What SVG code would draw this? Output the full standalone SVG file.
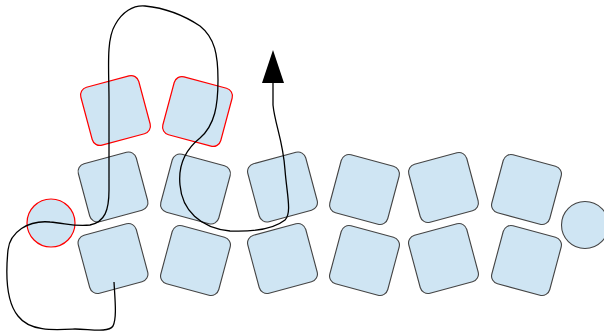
<svg xmlns="http://www.w3.org/2000/svg" width="604" height="333" viewBox="0 0 604 333">
<style>
.n{fill:#cfe5f3;stroke:#444;stroke-width:1.1}
.r{fill:#cfe5f3;stroke:#f00;stroke-width:1.2}
.c{fill:none;stroke:#000;stroke-width:1.3}
</style>
<defs>
<rect id="sq" x="-30" y="-30" width="60" height="60" rx="8"/>
<marker id="ah" viewBox="0 0 33 22" refX="0" refY="11" markerWidth="33" markerHeight="22" markerUnits="userSpaceOnUse" orient="auto">
<path d="M0,0 L33,11 L0,22 z" fill="#000"/>
</marker>
</defs>
<rect width="604" height="333" fill="#fff"/>
<g id="nodes">
<g id="red1"><use href="#sq" class="r" transform="translate(115.5,110.5) rotate(-15)"/></g>
<g id="red2"><use href="#sq" class="r" transform="translate(197.5,111.5) rotate(15)"/></g>
<g id="redc"><circle class="r" cx="51" cy="223" r="24"/></g>
<g id="a1"><use href="#sq" class="n" transform="translate(113,187) rotate(-15)"/></g>
<g id="a2"><use href="#sq" class="n" transform="translate(195.5,189) rotate(15)"/></g>
<g id="a3"><use href="#sq" class="n" transform="translate(282.5,187) rotate(-15)"/></g>
<g id="a4"><use href="#sq" class="n" transform="translate(364.5,189.5) rotate(15)"/></g>
<g id="a5"><use href="#sq" class="n" transform="translate(443.5,187.5) rotate(-15)"/></g>
<g id="a6"><use href="#sq" class="n" transform="translate(526.5,189.5) rotate(15)"/></g>
<g id="b1"><use href="#sq" class="n" transform="translate(113,258.5) rotate(-15)"/></g>
<g id="b2"><use href="#sq" class="n" transform="translate(195.5,260.5) rotate(15)"/></g>
<g id="b3"><use href="#sq" class="n" transform="translate(282.5,258.5) rotate(-15)"/></g>
<g id="b4"><use href="#sq" class="n" transform="translate(364.5,260.5) rotate(15)"/></g>
<g id="b5"><use href="#sq" class="n" transform="translate(443.5,258.5) rotate(-15)"/></g>
<g id="b6"><use href="#sq" class="n" transform="translate(526.5,260.5) rotate(15)"/></g>
<g id="endc"><circle class="n" cx="585" cy="225" r="23.5"/></g>
</g>
<g id="connectors">
<path class="c" marker-end="url(#ah)" d="M114,282 C115,300 117,318 113,326 C108,333 90,329 75,329 C55,330 30,332 18,316 C5,300 6,270 8,250 C10,232 28,220 50,222 C65,223 75,227 90,225 C105,222 109,210 109,190 L109,100 C109,70 106,40 115,25 C122,12 133,5 145,6 C165,8 185,16 200,26 C215,38 218,55 218,80 C218,105 215,125 200,138 C185,150 178,165 180,185 C182,210 200,228 230,231 C255,232 275,228 285,220 C292,213 287,195 285,170 C283,140 275,125 273,105 L273,83"/>
</g>
</svg>
